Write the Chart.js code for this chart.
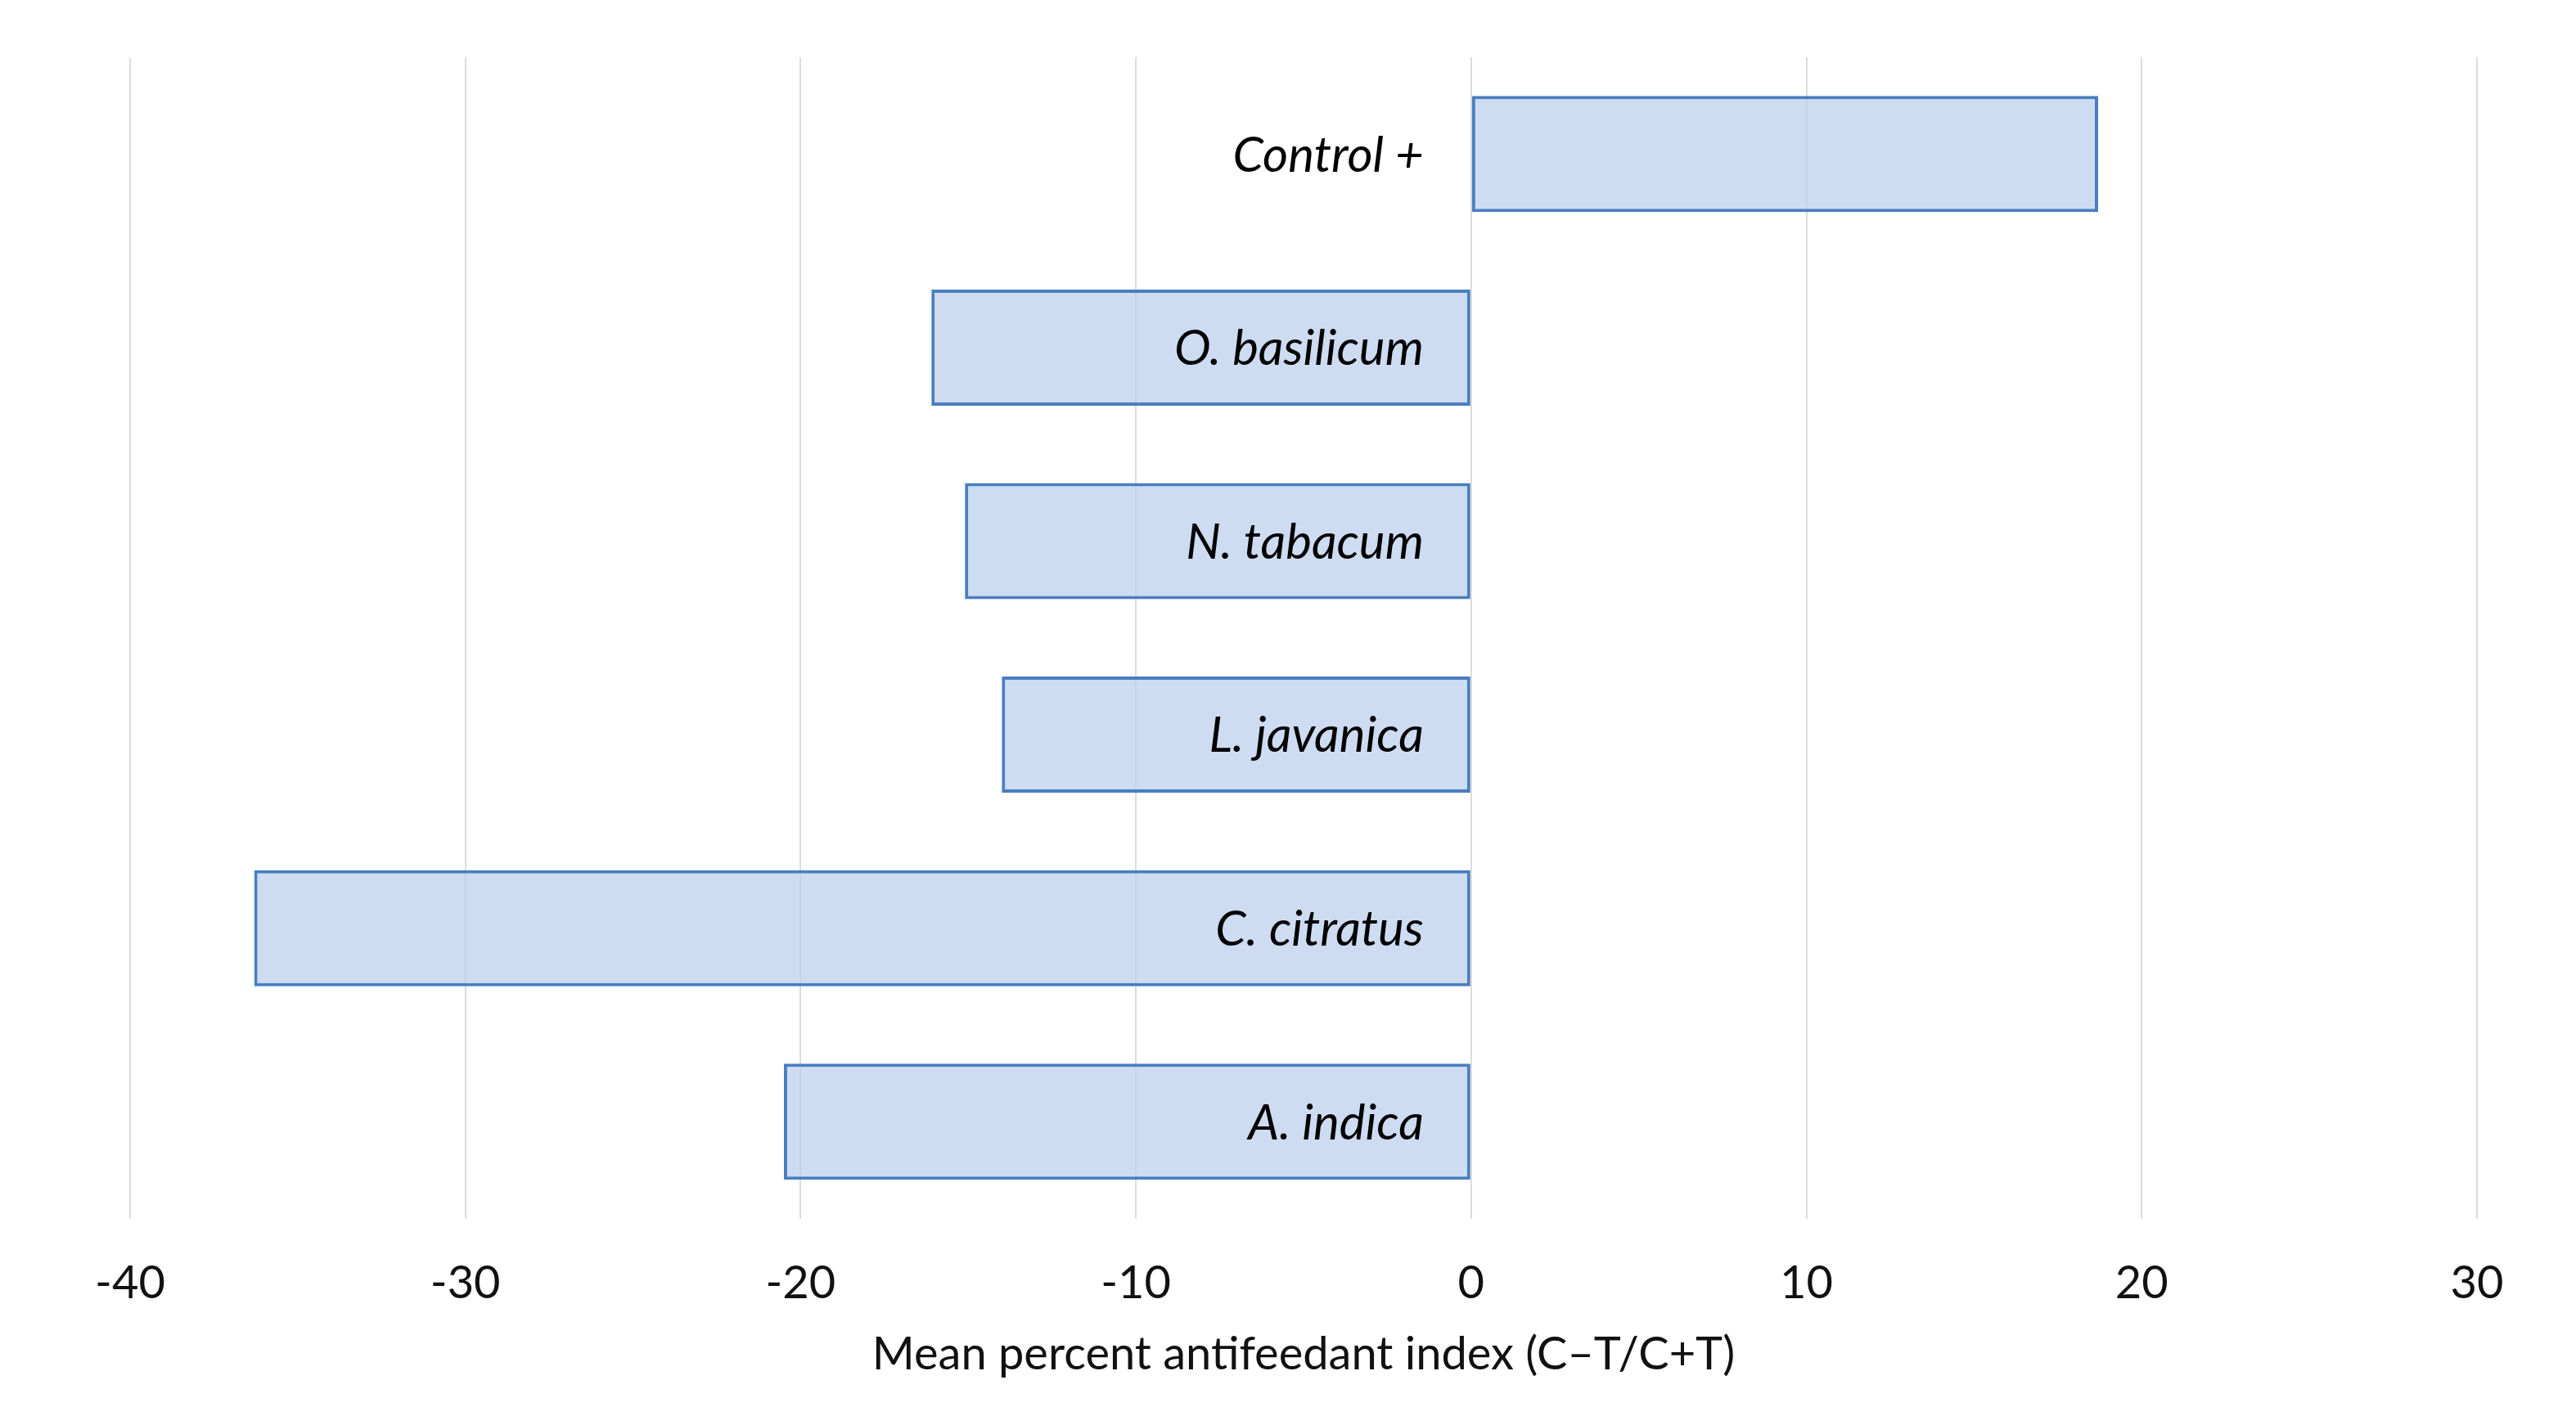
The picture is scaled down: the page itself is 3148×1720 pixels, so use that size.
<!DOCTYPE html>
<html>
<head>
<meta charset="utf-8">
<script src="https://cdn.jsdelivr.net/npm/chart.js@4/dist/chart.umd.min.js"></script>
<style>
  html, body { margin: 0; padding: 0; background: #ffffff; }
  #wrap { width: 3148px; height: 1720px; }
</style>
</head>
<body>
<div id="wrap"><canvas id="c" width="3148" height="1720"></canvas></div>
<script>
const categories = ["Control +", "O. basilicum", "N. tabacum", "L. javanica", "C. citratus", "A. indica"];
const antifeedantIndex = [18.7, -16.1, -15.1, -14.0, -36.3, -20.5];
const xTickMin = -40;
const xTickMax = 30;
const xTickStep = 10;
const axisTitle = "Mean percent antifeedant index (C\u2013T/C+T)";

const FONT = "Lato, 'Open Sans', sans-serif";

const innerLabels = {
  id: 'innerLabels',
  afterDatasetsDraw(chart) {
    const ctx = chart.ctx;
    const xs = chart.scales.x, ys = chart.scales.y;
    const x0 = xs.getPixelForValue(0);
    ctx.save();
    ctx.font = "italic 60px " + FONT;
    ctx.fillStyle = "#000000";
    ctx.textAlign = "right";
    ctx.textBaseline = "middle";
    categories.forEach((c, i) => {
      ctx.fillText(c, x0 - 58, ys.getPixelForTick(i) + 2);
    });
    ctx.restore();
  }
};

new Chart(document.getElementById('c'), {
  type: 'bar',
  data: {
    labels: categories,
    datasets: [{
      data: antifeedantIndex,
      backgroundColor: 'rgba(186,207,236,0.72)',
      borderColor: '#4a7ec0',
      borderWidth: 4,
      borderSkipped: false,
      categoryPercentage: 0.6,
      barPercentage: 1.0
    }]
  },
  options: {
    indexAxis: 'y',
    responsive: false,
    animation: false,
    devicePixelRatio: 1,
    layout: { padding: { left: 159, right: 121, top: 70, bottom: 30 } },
    plugins: { legend: { display: false }, tooltip: { enabled: false } },
    scales: {
      x: {
        min: xTickMin,
        max: xTickMax,
        ticks: {
          stepSize: xTickStep,
          padding: 46,
          color: '#111111',
          font: { family: FONT, size: 56 }
        },
        grid: { color: '#dcdcdc', lineWidth: 2, drawTicks: false },
        border: { display: false },
        title: {
          display: true,
          text: axisTitle,
          color: '#111111',
          font: { family: FONT, size: 56 },
          padding: { top: -26, bottom: 0 }
        }
      },
      y: {
        display: false,
        grid: { display: false }
      }
    }
  },
  plugins: [innerLabels]
});
</script>
</body>
</html>
